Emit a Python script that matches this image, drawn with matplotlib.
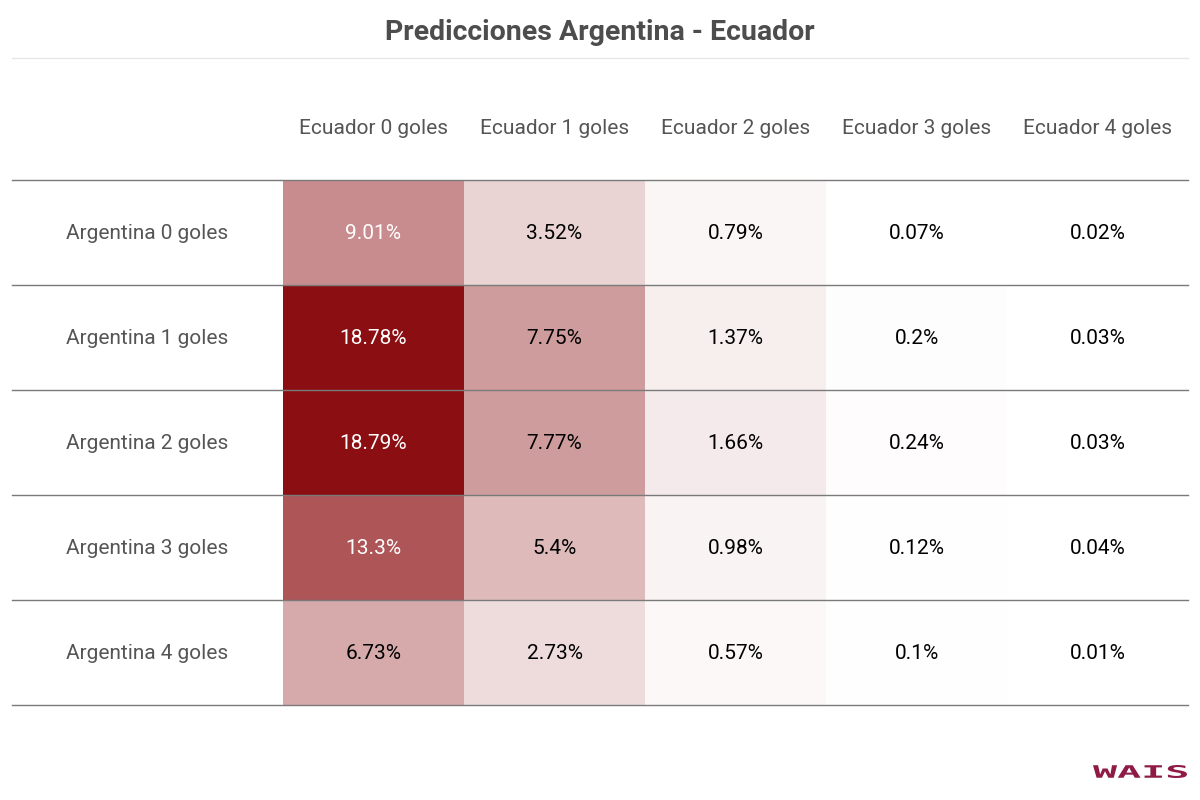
import numpy as np
import matplotlib.pyplot as plt
from matplotlib.colors import LinearSegmentedColormap
from matplotlib.textpath import TextPath
from matplotlib.patches import PathPatch
from matplotlib.font_manager import FontProperties
from matplotlib.transforms import Affine2D

plt.rcParams['font.family'] = ['Roboto', 'DejaVu Sans']

# datos
titulo = 'Predicciones Argentina - Ecuador'
columnas = ['Ecuador 0 goles', 'Ecuador 1 goles', 'Ecuador 2 goles',
            'Ecuador 3 goles', 'Ecuador 4 goles']
filas = ['Argentina 0 goles', 'Argentina 1 goles', 'Argentina 2 goles',
         'Argentina 3 goles', 'Argentina 4 goles']
valores = np.array([
    [9.01, 3.52, 0.79, 0.07, 0.02],
    [18.78, 7.75, 1.37, 0.2, 0.03],
    [18.79, 7.77, 1.66, 0.24, 0.03],
    [13.3, 5.4, 0.98, 0.12, 0.04],
    [6.73, 2.73, 0.57, 0.1, 0.01],
])
etiquetas = [['9.01%', '3.52%', '0.79%', '0.07%', '0.02%'],
             ['18.78%', '7.75%', '1.37%', '0.2%', '0.03%'],
             ['18.79%', '7.77%', '1.66%', '0.24%', '0.03%'],
             ['13.3%', '5.4%', '0.98%', '0.12%', '0.04%'],
             ['6.73%', '2.73%', '0.57%', '0.1%', '0.01%']]

# layout en pixeles
x_izq, x_der = 12, 1188
x_celdas = 283
y_tabla = 180
alto_fila = 105
ancho_col = (x_der - x_celdas) / len(columnas)

fig = plt.figure(figsize=(12, 8), dpi=100)
ax = fig.add_axes([0, 0, 1, 1])
ax.set_xlim(0, 1200)
ax.set_ylim(800, 0)
ax.axis('off')

cmap = LinearSegmentedColormap.from_list('rojo', ['#ffffff', '#8b0f12'])
xs = x_celdas + ancho_col * np.arange(len(columnas) + 1)
ys = y_tabla + alto_fila * np.arange(len(filas) + 1)
ax.pcolormesh(xs, ys, valores, cmap=cmap, vmin=0, vmax=valores.max())

vmax = valores.max()
for i in range(len(filas)):
    yc = y_tabla + alto_fila * (i + 0.5) + 1
    ax.text((x_izq + x_celdas) / 2, yc, filas[i], ha='center', va='center',
            fontsize=15, color='#555555')
    for j in range(len(columnas)):
        xc = x_celdas + ancho_col * (j + 0.5)
        col = 'white' if valores[i, j] / vmax > 0.45 else 'black'
        ax.text(xc, yc, etiquetas[i][j], ha='center', va='center',
                fontsize=15, color=col)

for j, c in enumerate(columnas):
    xc = x_celdas + ancho_col * (j + 0.5)
    ax.text(xc, 128, c, ha='center', va='center', fontsize=15, color='#555555')

for y in ys:
    ax.plot([x_izq, x_der], [y, y], color='#7a7a7a', lw=1)

ax.plot([x_izq, x_der], [58, 58], color='#e6e6e6', lw=1)
ax.text(600, 33, titulo, ha='center', va='center', fontsize=20.5,
        fontweight='bold', color='#4d4d4d')

# logo estirado a lo ancho
tp = TextPath((0, 0), 'WAIS', size=10,
              prop=FontProperties(family='DejaVu Sans Mono', weight='bold'))
bb = tp.get_extents()
sx = 94 / bb.width
sy = 13 / bb.height
tr = (Affine2D().translate(-bb.x0, -bb.y0).scale(sx, -sy)
      .translate(1093, 778))
ax.add_patch(PathPatch(tr.transform_path(tp), color='#8e1a45', lw=0))

fig.savefig('out.png', dpi=100)
